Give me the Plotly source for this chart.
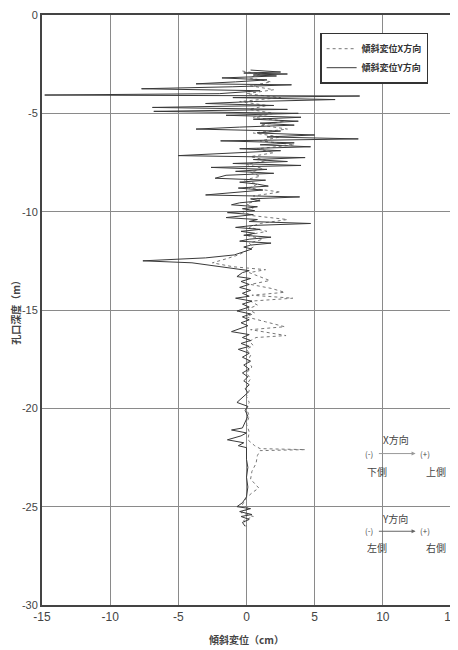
import plotly.graph_objects as go

# ---- data ----
depth_y = [-2.80, -2.90, -2.95, -3.00, -3.05, -3.10, -3.20, -3.30, -3.40, -3.50, -3.55, -3.65, -3.75, -3.85,
           -4.00, -4.07, -4.12, -4.20, -4.30, -4.40, -4.50, -4.60, -4.70, -4.80, -4.90, -5.00, -5.10, -5.20,
           -5.30, -5.40, -5.50, -5.60, -5.70, -5.80, -5.90, -6.00, -6.10, -6.20, -6.30, -6.40, -6.50, -6.60,
           -6.70, -6.80, -6.90, -7.00, -7.15, -7.25, -7.35, -7.45, -7.55, -7.65, -7.75, -7.85, -7.95, -8.05,
           -8.15, -8.30, -8.40, -8.50, -8.60, -8.70, -8.80, -8.90, -9.00, -9.15, -9.25, -9.35, -9.45, -9.55,
           -9.65, -9.75, -9.85, -9.95, -10.05, -10.15, -10.30, -10.40, -10.50, -10.60, -10.70, -10.80, -10.90,
           -11.00, -11.10, -11.20, -11.30, -11.40, -11.50, -11.60, -11.70, -11.80, -11.90, -12.00, -12.10,
           -12.20, -12.35, -12.50, -12.60, -12.75, -12.90, -13.00, -13.10, -13.30, -13.40, -13.55, -13.70,
           -13.85, -14.00, -14.15, -14.30, -14.40, -14.55, -14.70, -14.85, -15.05, -15.20, -15.35, -15.50,
           -15.65, -15.80, -15.95, -16.10, -16.25, -16.40, -16.55, -16.70, -16.85, -17.00, -17.20, -17.40,
           -17.60, -17.80, -18.00, -18.20, -18.40, -18.60, -18.80, -19.00, -19.20, -19.40, -19.70, -19.90,
           -20.10, -20.40, -20.70, -21.00, -21.10, -21.25, -21.40, -21.60, -21.75, -21.90, -22.00, -22.20,
           -22.60, -23.00, -23.50, -24.00, -24.50, -24.80, -25.00, -25.10, -25.25, -25.40, -25.50, -25.65,
           -25.80, -26.00]
disp_y = [0.3, 2.5, -0.2, 3.0, 0.5, 2.2, -1.8, 1.5, -0.8, -3.7, 3.3, -1.0, -7.7, 1.0,
          -2.0, -14.8, 8.3, -1.0, 6.5, 0.5, -3.0, 2.0, -6.9, 3.0, -6.8, 3.8, -1.5, 4.0,
          0.5, 3.8, 1.0, 3.5, -0.5, -3.7, 2.5, 0.8, 5.0, 1.5, 8.2, -1.9, 3.5, 1.0,
          4.7, -0.5, 2.5, -1.0, -5.0, 4.3, 0.5, 3.0, -1.0, 4.0, -2.6, 1.5, -0.8, 2.0,
          -1.5, -2.3, 1.4, -0.5, 0.8, 1.6, -0.6, 1.2, -0.4, -3.0, 3.9, 0.3, 1.0, -0.5,
          -1.1, 0.8, -0.3, 0.6, -1.4, 0.5, -1.5, 0.8, 0.2, 4.7, 0.5, -0.8, 1.0,
          -0.4, 0.6, -0.2, 1.8, 0.2, -0.5, 1.8, 0.3, -0.2, 0.4, -0.1, -0.5,
          -0.9, -3.0, -7.6, -4.0, -2.3, -0.6, 0.2, -0.3, -0.7, 0.3, -0.4, 0.2,
          -0.5, 0.3, -0.3, 0.2, -0.8, 0.4, -0.3, 0.2, -0.7, 0.3, -0.3, 0.2,
          -0.4, 0.1, -0.5, -1.1, 0.2, -0.3, 0.3, -0.4, 0.2, -0.6, 0.2, -0.3,
          0.3, -0.2, 0.2, -0.3, 0.1, -0.2, 0.2, -0.1, 0.1, -0.2, -0.7, 0.1,
          -0.1, 0.1, -0.1, -0.3, -1.1, 0.0, -0.4, -1.4, -0.2, -0.6, 0.0, 0.0,
          0.0, 0.1, 0.0, 0.1, 0.0, -0.3, -0.7, 0.3, -0.5, 0.4, -0.4, 0.2,
          -0.3, -0.1]

depth_x = [-2.85, -3.00, -3.20, -3.40, -3.60, -3.80, -4.00, -4.20, -4.40, -4.60, -4.80, -5.00, -5.20,
           -5.40, -5.60, -5.80, -6.00, -6.20, -6.40, -6.60, -6.80, -7.00, -7.20, -7.40, -7.60, -7.80,
           -8.00, -8.20, -8.40, -8.60, -8.80, -9.00, -9.20, -9.40, -9.60, -9.80, -10.00, -10.20, -10.40,
           -10.60, -10.80, -11.00, -11.20, -11.40, -11.60, -11.80, -12.00, -12.20, -12.40, -12.60, -12.80,
           -12.95, -13.10, -13.30, -13.50, -13.70, -13.90, -14.10, -14.25, -14.40, -14.55, -14.75, -14.95,
           -15.15, -15.35, -15.60, -15.85, -16.00, -16.20, -16.30, -16.40, -16.60, -16.80, -17.00, -17.30,
           -17.60, -17.90, -18.20, -18.50, -18.80, -19.10, -19.40, -19.70, -20.00, -20.40, -20.80, -21.20,
           -21.60, -21.90, -22.05, -22.10, -22.15, -22.40, -22.80, -23.20, -23.60, -24.05, -24.30, -24.55,
           -24.90, -25.10, -25.30, -25.50, -25.70, -26.00]
disp_x = [-0.3, 1.0, 0.2, 1.8, 0.3, 2.0, 0.0, 2.5, -0.5, 1.5, 0.2, 2.0, 0.5,
          2.8, 1.0, 3.0, 0.5, 2.5, 1.0, 3.5, 0.8, 2.0, 0.3, 1.5, 0.0, 1.2,
          0.3, 1.0, -0.2, 0.8, 0.2, 2.5, 0.5, 1.0, 0.0, 0.5, -0.3, 0.4, 3.0,
          1.0, 0.2, 1.5, 0.0, 1.2, 0.2, 0.5, 0.0, -0.6, -1.5, -2.5, -1.0,
          1.4, 0.2, 1.0, 1.7, 0.3, 1.8, 2.8, 0.4, 3.4, 0.3, 0.8, 0.1,
          0.6, 0.0, 1.4, 2.8, 0.3, 2.2, 2.9, 0.7, 0.2, 0.5, 0.0, 0.3,
          0.1, 0.4, 0.0, 0.3, 0.0, 0.2, 0.0, 0.2, 0.0, 0.2, 0.0, 0.2,
          0.1, 0.6, 1.0, 4.3, 1.0, 0.8, 0.7, 0.4, 0.3, 0.9, 0.4, 0.0,
          -0.3, 0.2, -0.4, 0.5, -0.2, 0.0]

x_ticks = [-15, -10, -5, 0, 5, 10, 15]
y_ticks = [0, -5, -10, -15, -20, -25, -30]

name_x = "傾斜変位X方向"
name_y = "傾斜変位Y方向"
x_title = "傾斜変位（cm）"
y_title = "孔口深度（m）"

JP = "Noto Sans CJK JP"
NUM = "Liberation Sans"

fig = go.Figure()
fig.add_trace(go.Scatter(x=disp_x, y=depth_x, mode="lines", name=name_x,
                         line=dict(color="#777777", width=1, dash="dot")))
fig.add_trace(go.Scatter(x=disp_y, y=depth_y, mode="lines", name=name_y,
                         line=dict(color="#3a3a3a", width=1)))

fig.update_layout(
    width=450, height=642,
    margin=dict(l=34, r=7, t=7, b=45, autoexpand=False),
    paper_bgcolor="white", plot_bgcolor="white",
    showlegend=True,
    legend=dict(x=0.68, y=0.97, xanchor="left", yanchor="top",
                bgcolor="white", bordercolor="#333333", borderwidth=1.5,
                font=dict(family=JP, size=9, color="#333333", weight="bold"),
                tracegroupgap=2),
    xaxis=dict(range=[-15, 15], tickvals=x_ticks, ticktext=[str(v) for v in x_ticks],
               showgrid=True, gridcolor="#8a8a8a", gridwidth=1, zeroline=False,
               showline=True, linecolor="#444444", linewidth=2, mirror=True,
               ticks="", automargin=False,
               tickfont=dict(family=NUM, size=12, color="#444444"),
               title=dict(text=x_title, font=dict(family=JP, size=10, color="#444444", weight="bold"),
                          standoff=14)),
    yaxis=dict(range=[-30, 0], tickvals=y_ticks, ticktext=[str(v) for v in y_ticks],
               showgrid=True, gridcolor="#8a8a8a", gridwidth=1, zeroline=False,
               showline=True, linecolor="#444444", linewidth=2, mirror=True,
               ticks="", automargin=False,
               tickfont=dict(family=NUM, size=11, color="#444444"),
               title=dict(text=y_title, font=dict(family=JP, size=10, color="#444444", weight="bold"),
                          standoff=6)),
)

def txt(x, y, s, size=10):
    fig.add_annotation(x=x, y=y, xref="x", yref="y", text=s, showarrow=False,
                       font=dict(family=JP, size=size, color="#444444"))

# X direction legend
txt(11.0, -21.6, "X方向")
txt(9.0, -22.3, "(-)", 8)
txt(13.1, -22.3, "(+)", 8)
fig.add_annotation(x=12.4, y=-22.3, ax=9.6, ay=-22.3, xref="x", yref="y", axref="x", ayref="y",
                   text="", showarrow=True, arrowhead=2, arrowsize=0.8, arrowwidth=1, arrowcolor="#999999")
txt(9.6, -23.2, "下側")
txt(13.9, -23.2, "上側")
# Y direction legend
txt(10.9, -25.6, "Y方向")
txt(9.0, -26.2, "(-)", 8)
txt(13.1, -26.2, "(+)", 8)
fig.add_annotation(x=12.4, y=-26.25, ax=9.6, ay=-26.25, xref="x", yref="y", axref="x", ayref="y",
                   text="", showarrow=True, arrowhead=2, arrowsize=0.8, arrowwidth=1, arrowcolor="#666666")
txt(9.6, -27.1, "左側")
txt(13.9, -27.1, "右側")

fig.write_html("out.html")
